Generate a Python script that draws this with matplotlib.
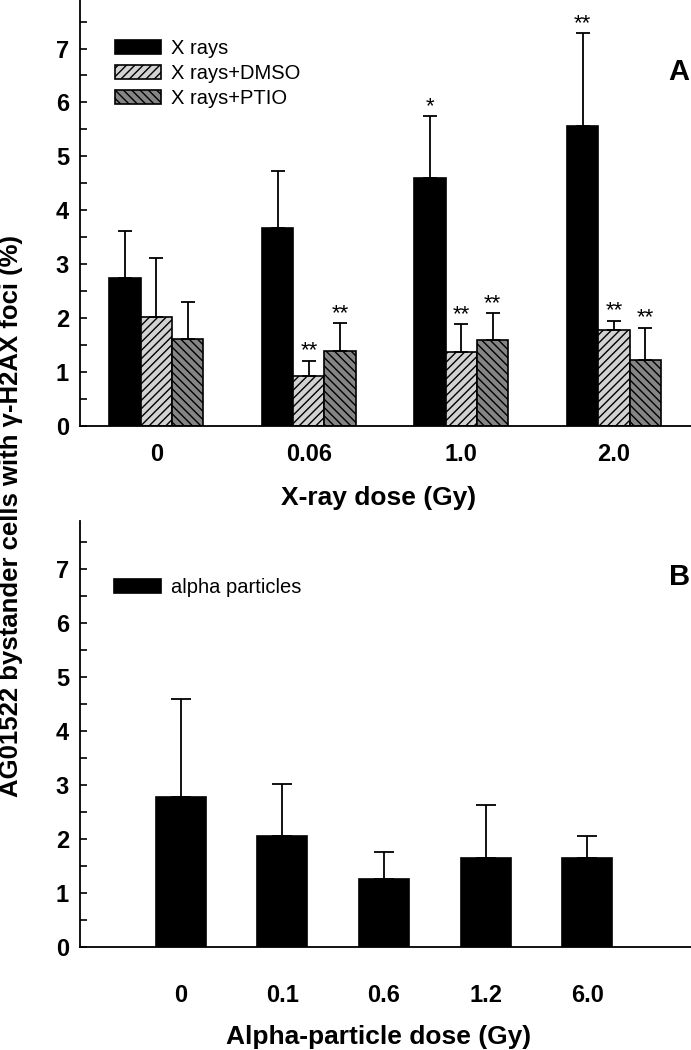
import numpy as np
import matplotlib
matplotlib.use("Agg")
import matplotlib.pyplot as plt
from matplotlib.ticker import MultipleLocator

plt.rcParams['font.family'] = ['Liberation Sans', 'DejaVu Sans']
plt.rcParams['hatch.linewidth'] = 1.0

# panel A data
xray_doses = ['0', '0.06', '1.0', '2.0']
xray_mean = [2.75, 3.68, 4.59, 5.56]
xray_err = [0.86, 1.05, 1.16, 1.72]
dmso_mean = [2.03, 0.93, 1.37, 1.78]
dmso_err = [1.08, 0.28, 0.52, 0.17]
ptio_mean = [1.61, 1.39, 1.60, 1.23]
ptio_err = [0.69, 0.52, 0.49, 0.59]
xray_sig = ['', '', '*', '**']
dmso_sig = ['', '**', '**', '**']
ptio_sig = ['', '**', '**', '**']

# panel B data
alpha_doses = ['0', '0.1', '0.6', '1.2', '6.0']
alpha_mean = [2.77, 2.05, 1.25, 1.64, 1.64]
alpha_err = [1.83, 0.97, 0.50, 0.98, 0.41]

fig = plt.figure(figsize=(6.91, 10.5), dpi=100)
axA = fig.add_axes([0.1158, 0.5943, 0.8842, 0.4057])
axB = fig.add_axes([0.1158, 0.0984, 0.8842, 0.4057])

ekw = dict(elinewidth=1.3, capthick=1.3, ecolor='black')
leg_kw = dict(loc='upper left', frameon=False, fontsize=14.5, handlelength=2.3,
              handleheight=0.7, handletextpad=0.5, labelspacing=0.3,
              borderpad=0, borderaxespad=0)


def style_axis(ax):
    ax.spines['top'].set_visible(False)
    ax.spines['right'].set_visible(False)
    ax.spines['left'].set_linewidth(1.3)
    ax.spines['bottom'].set_linewidth(1.3)
    ax.set_ylim(0, 7.9)
    ax.yaxis.set_major_locator(MultipleLocator(1))
    ax.yaxis.set_minor_locator(MultipleLocator(0.5))
    ax.tick_params(axis='y', which='both', direction='in', length=5, width=1.2,
                   labelsize=17, pad=8)
    ax.tick_params(axis='x', length=0, labelsize=17)
    for lab in ax.get_yticklabels() + ax.get_xticklabels():
        lab.set_fontweight('bold')


def add_stars(ax, xs, tops, sigs):
    for x, t, s in zip(xs, tops, sigs):
        if s:
            ax.annotate(s, (x, t), xytext=(0, 3), textcoords='offset points',
                        ha='center', va='baseline', fontsize=16)


# ---- panel A ----
x = np.arange(len(xray_doses))
w = 0.205
zeros = np.zeros(len(x))
axA.bar(x - w, xray_mean, w, color='black', edgecolor='black', linewidth=1.2,
        yerr=[zeros, xray_err], capsize=5, error_kw=ekw, label='X rays')
axA.bar(x, dmso_mean, w, color='#d2d2d2', edgecolor='black', linewidth=1.2,
        hatch='////', yerr=[zeros, dmso_err], capsize=5, error_kw=ekw,
        label='X rays+DMSO')
axA.bar(x + w, ptio_mean, w, color='#858585', edgecolor='black', linewidth=1.2,
        hatch='\\\\\\\\', yerr=[zeros, ptio_err], capsize=5, error_kw=ekw,
        label='X rays+PTIO')
add_stars(axA, x - w, np.add(xray_mean, xray_err), xray_sig)
add_stars(axA, x, np.add(dmso_mean, dmso_err), dmso_sig)
add_stars(axA, x + w, np.add(ptio_mean, ptio_err), ptio_sig)

axA.set_xlim(-0.5, 3.505)
axA.set_xticks(x)
axA.set_xticklabels(xray_doses)
style_axis(axA)
axA.tick_params(axis='x', pad=12)
axA.set_xlabel('X-ray dose (Gy)', fontsize=19, fontweight='bold', labelpad=15)
axA.xaxis.label.set_x(0.488)
axA.legend(bbox_to_anchor=(0.057, 0.908), **leg_kw)
axA.text(0.998, 0.83, 'A', transform=axA.transAxes, ha='right', va='center',
         fontsize=21, fontweight='bold')

# ---- panel B ----
xb = np.arange(len(alpha_doses))
axB.bar(xb, alpha_mean, 0.49, color='black', edgecolor='black', linewidth=1.2,
        yerr=[np.zeros(len(xb)), alpha_err], capsize=7, error_kw=ekw,
        label='alpha particles')
axB.set_xlim(-0.99, 5.02)
axB.set_xticks(xb)
axB.set_xticklabels(alpha_doses)
style_axis(axB)
axB.tick_params(axis='x', pad=27)
axB.set_xlabel('Alpha-particle dose (Gy)', fontsize=19, fontweight='bold',
               labelpad=13)
axB.xaxis.label.set_x(0.488)
axB.legend(bbox_to_anchor=(0.056, 0.866), **leg_kw)
axB.text(0.998, 0.868, 'B', transform=axB.transAxes, ha='right', va='center',
         fontsize=21, fontweight='bold')

fig.text(0.016, 0.5086, 'AG01522 bystander cells with \u03b3-H2AX foci (%)',
         rotation=90, ha='center', va='center', fontsize=18.5, fontweight='bold')

fig.savefig('out.png', dpi=100)
